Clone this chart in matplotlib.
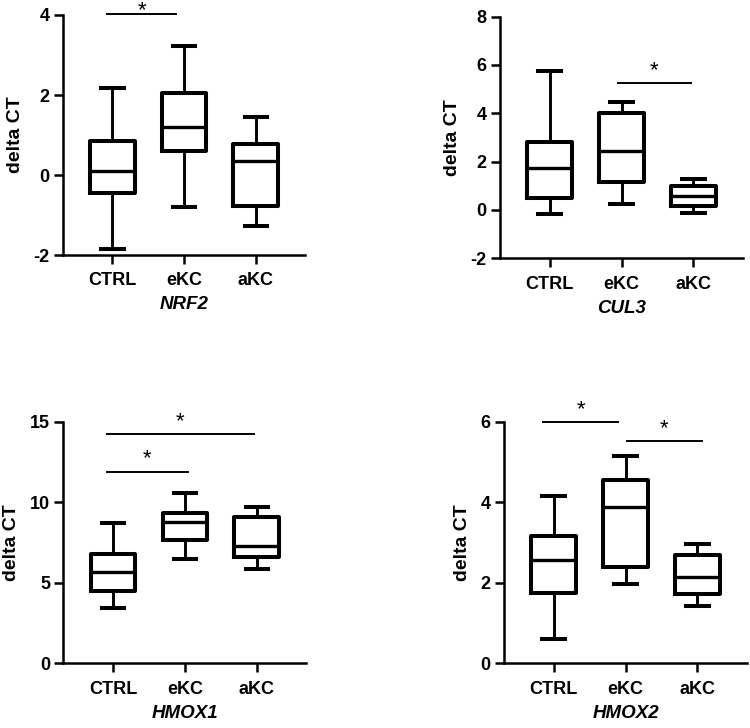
import matplotlib
matplotlib.use("Agg")
import matplotlib.pyplot as plt

plt.rcParams['font.family'] = ['Liberation Sans', 'DejaVu Sans']
plt.rcParams['font.weight'] = 'bold'
plt.rcParams['axes.unicode_minus'] = False

groups = ["CTRL", "eKC", "aKC"]

# box stats: lower whisker, Q1, median, Q3, upper whisker
nrf2_lo = [-1.86, -0.81, -1.27]
nrf2_q1 = [-0.44, 0.61, -0.78]
nrf2_med = [0.11, 1.19, 0.36]
nrf2_q3 = [0.86, 2.06, 0.78]
nrf2_hi = [2.17, 3.23, 1.46]

cul3_lo = [-0.17, 0.25, -0.11]
cul3_q1 = [0.48, 1.14, 0.17]
cul3_med = [1.72, 2.44, 0.59]
cul3_q3 = [2.82, 4.00, 0.99]
cul3_hi = [5.74, 4.45, 1.27]

hmox1_lo = [3.42, 6.46, 5.83]
hmox1_q1 = [4.51, 7.66, 6.58]
hmox1_med = [5.65, 8.79, 7.30]
hmox1_q3 = [6.79, 9.31, 9.10]
hmox1_hi = [8.70, 10.55, 9.72]

hmox2_lo = [0.60, 1.96, 1.41]
hmox2_q1 = [1.74, 2.40, 1.72]
hmox2_med = [2.57, 3.87, 2.15]
hmox2_q3 = [3.17, 4.54, 2.69]
hmox2_hi = [4.15, 5.15, 2.96]

# significance bars: (from, to, height)
nrf2_sig = [(-0.07, 0.89, 4.03)]
cul3_sig = [(0.945, 1.96, 5.26)]
hmox1_sig = [(-0.08, 1.04, 11.9), (-0.08, 1.96, 14.21)]
hmox2_sig = [(-0.15, 0.90, 5.98), (1.02, 2.06, 5.52)]

panels = [
    ("NRF2", (nrf2_lo, nrf2_q1, nrf2_med, nrf2_q3, nrf2_hi), nrf2_sig, (-2, 4), [-2, 0, 2, 4],
     [0.084, 0.6497, 0.3227, 0.3297], 9.6),
    ("CUL3", (cul3_lo, cul3_q1, cul3_med, cul3_q3, cul3_hi), cul3_sig, (-2, 8), [-2, 0, 2, 4, 6, 8],
     [0.6667, 0.6452, 0.324, 0.3319], 16.5),
    ("HMOX1", (hmox1_lo, hmox1_q1, hmox1_med, hmox1_q3, hmox1_hi), hmox1_sig, (0, 15), [0, 5, 10, 15],
     [0.0844, 0.0889, 0.324, 0.3319], 16.5),
    ("HMOX2", (hmox2_lo, hmox2_q1, hmox2_med, hmox2_q3, hmox2_hi), hmox2_sig, (0, 6), [0, 2, 4, 6],
     [0.672, 0.0889, 0.324, 0.3319], 16.5),
]

fig = plt.figure(figsize=(7.5, 7.28), dpi=100)

for gene, stats_arr, sigs, ylim, yticks, rect, star_off in panels:
    ax = fig.add_axes(rect)
    lo, q1, med, q3, hi = stats_arr
    stats = []
    for i in range(len(groups)):
        stats.append({"whislo": lo[i], "q1": q1[i], "med": med[i], "q3": q3[i],
                      "whishi": hi[i], "fliers": [], "label": groups[i]})
    ax.bxp(stats, positions=range(len(groups)), widths=0.62, showfliers=False,
           boxprops=dict(color="black", linewidth=2.9),
           medianprops=dict(color="black", linewidth=2.4),
           whiskerprops=dict(color="black", linewidth=2.1),
           capprops=dict(color="black", linewidth=2.9))
    ax.set_xlim(-0.69, 2.69)
    ax.set_ylim(*ylim)
    ax.set_yticks(yticks)
    ax.set_xticks(range(len(groups)))
    ax.set_xticklabels(groups)
    for s in ["top", "right"]:
        ax.spines[s].set_visible(False)
    for s in ["left", "bottom"]:
        ax.spines[s].set_linewidth(1.8)
    ax.tick_params(width=1.8, length=6.5, labelsize=13, pad=3)
    ax.tick_params(axis="x", pad=6)
    ax.set_ylabel("delta CT", fontsize=14, fontweight="bold", labelpad=7)
    ax.set_xlabel(gene, fontsize=13.5, fontweight="bold", style="italic", labelpad=5)

    for x0, x1, y in sigs:
        ax.plot([x0, x1], [y, y], color="black", linewidth=1.4, clip_on=False)
        # star sits above the bar
        ax.annotate("*", xy=((x0 + x1) / 2, y), xytext=(0, star_off),
                    textcoords="offset points", ha="center", va="top",
                    fontsize=16, fontweight="normal", annotation_clip=False)

fig.savefig("out.png", dpi=100)
